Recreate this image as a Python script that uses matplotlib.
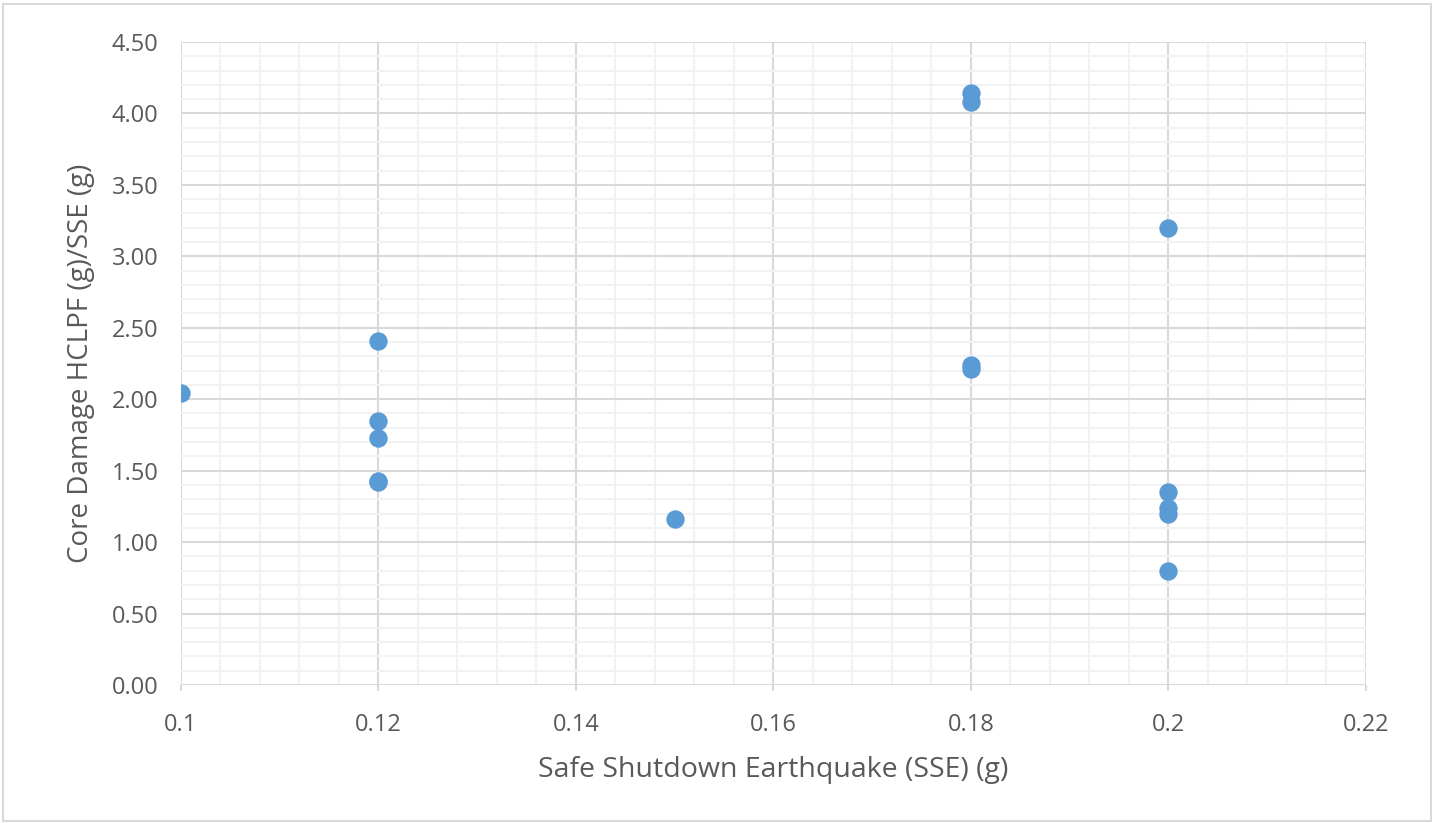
import matplotlib
matplotlib.use('Agg')
import matplotlib.pyplot as plt
from matplotlib.ticker import MultipleLocator, FuncFormatter
from matplotlib.patches import Rectangle

# data
sse = [0.10, 0.12, 0.12, 0.12, 0.12, 0.12, 0.15, 0.18, 0.18, 0.18, 0.18,
       0.20, 0.20, 0.20, 0.20, 0.20]
hclpf_ratio = [2.04, 2.41, 1.85, 1.73, 1.43, 1.42, 1.16, 4.14, 4.08, 2.24, 2.21,
               3.20, 1.35, 1.24, 1.20, 0.80]

xlabel = 'Safe Shutdown Earthquake (SSE) (g)'
ylabel = 'Core Damage HCLPF (g)/SSE (g)'

plt.rcParams['font.family'] = ['Open Sans', 'DejaVu Sans']
txt = '#595959'

fig = plt.figure(figsize=(14.35, 8.23), dpi=100)
fig.patches.append(Rectangle((0.002, 0.003), 0.995, 0.992, transform=fig.transFigure,
                             fill=False, edgecolor='#D9D9D9', linewidth=1.5))
ax = fig.add_axes([0.1261, 0.1677, 0.8258, 0.7813])

ax.scatter(sse, hclpf_ratio, s=175, color='#5B9BD5', zorder=3, linewidths=0)

ax.set_xlim(0.1, 0.22)
ax.set_ylim(0, 4.5)
ax.xaxis.set_major_locator(MultipleLocator(0.02))
ax.xaxis.set_minor_locator(MultipleLocator(0.004))
ax.yaxis.set_major_locator(MultipleLocator(0.5))
ax.yaxis.set_minor_locator(MultipleLocator(0.1))
ax.xaxis.set_major_formatter(FuncFormatter(lambda v, p: ('%.2f' % v).rstrip('0')))
ax.yaxis.set_major_formatter(FuncFormatter(lambda v, p: '%.2f' % v))

ax.grid(which='major', color='#D9D9D9', linewidth=1.5, zorder=1)
ax.grid(which='minor', color='#F2F2F2', linewidth=1.5, zorder=0)
ax.set_axisbelow(True)
for s in ax.spines.values():
    s.set_visible(False)
ax.tick_params(which='both', length=0, labelsize=17, colors=txt)
ax.tick_params(axis='y', pad=16)
ax.tick_params(axis='x', which='major', length=4, width=1.5, color='#D9D9D9', pad=16)

ax.set_xlabel(xlabel, fontsize=20.5, color=txt, labelpad=14)
ax.set_ylabel(ylabel, fontsize=20, color=txt, labelpad=12)

fig.savefig('out.png', dpi=100)
